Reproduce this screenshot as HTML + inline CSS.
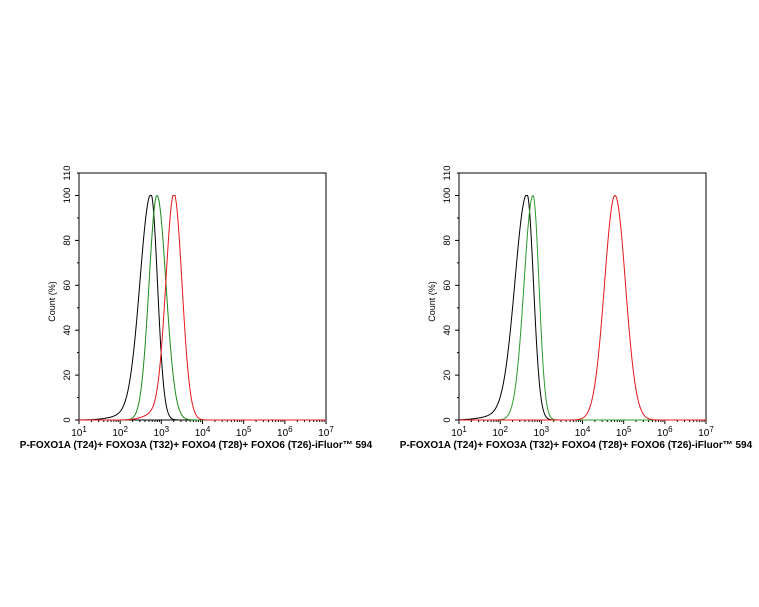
<!DOCTYPE html><html><head><style>body{margin:0;background:#fff}svg{display:block}text{font-family:"Liberation Sans",sans-serif}</style></head><body>
<svg id="s" width="759" height="607" xmlns="http://www.w3.org/2000/svg"></svg>
<script>
const S=document.getElementById('s');let h='';
function chart(L,peaks){const R=L+247,T=173,B=420;
h+=`<rect x="${L}" y="${T}" width="247" height="${B-T}" fill="none" stroke="#000" stroke-width="1"/>`;
for(let i=0;i<=11;i++){const y=B-i*22.45;h+=`<line x1="${L-(i%2==0?4:2)}" x2="${L}" y1="${y}" y2="${y}" stroke="#000"/>`;
if(i%2==0||i==11){h+=`<text transform="translate(${L-9},${y}) rotate(-90)" font-size="9.5" text-anchor="middle">${i*10}</text>`;}}
for(let d=0;d<=6;d++){const x=L+d*41.17;h+=`<line x1="${x}" x2="${x}" y1="${B}" y2="${B+4}" stroke="#000"/>`;
h+=`<text x="${x}" y="${B+16}" font-size="10" text-anchor="middle">10<tspan dy="-4" font-size="8">${d+1}</tspan></text>`;
if(d<6)for(let k=2;k<10;k++){const xx=x+Math.log10(k)*41.17;h+=`<line x1="${xx}" x2="${xx}" y1="${B}" y2="${B+2}" stroke="#000"/>`;}}
h+=`<text transform="translate(${L-24},${(T+B)/2+5}) rotate(-90)" font-size="9" text-anchor="middle">Count  (%)</text>`;
h+=`<text x="${L+117}" y="448" font-size="10" font-weight="bold" text-anchor="middle">P-FOXO1A (T24)+ FOXO3A (T32)+ FOXO4 (T28)+ FOXO6 (T26)-iFluor™ 594</text>`;
for(const p of peaks){let d='';for(let x=L;x<=R;x+=0.5){const dx=x-p.c;const s=dx<0?p.l:p.r;let v=Math.exp(-dx*dx/(2*s*s));if(p.t)v+=p.t*Math.exp(-Math.pow((x-p.c+p.l*2.2),2)/(2*p.l*p.l*2));v=Math.min(v,1);const y=B-v*224.5;d+=(d?'L':'M')+x.toFixed(1)+','+y.toFixed(1);}
h+=`<path d="${d}" fill="none" stroke="${p.col}" stroke-width="1"/>`;}}
chart(79,[{c:151,l:11,r:6.5,col:'#000',t:0.02},{c:157,l:8,r:9,col:'#1a8a1a'},{c:174,l:8,r:8,col:'#e8161b',t:0.03}]);
chart(459,[{c:527,l:12,r:6.5,col:'#000',t:0.02},{c:533,l:9,r:6,col:'#2a9a2a'},{c:615,l:10.5,r:10.5,col:'#e8161b'}]);
S.innerHTML=h;
</script></body></html>
